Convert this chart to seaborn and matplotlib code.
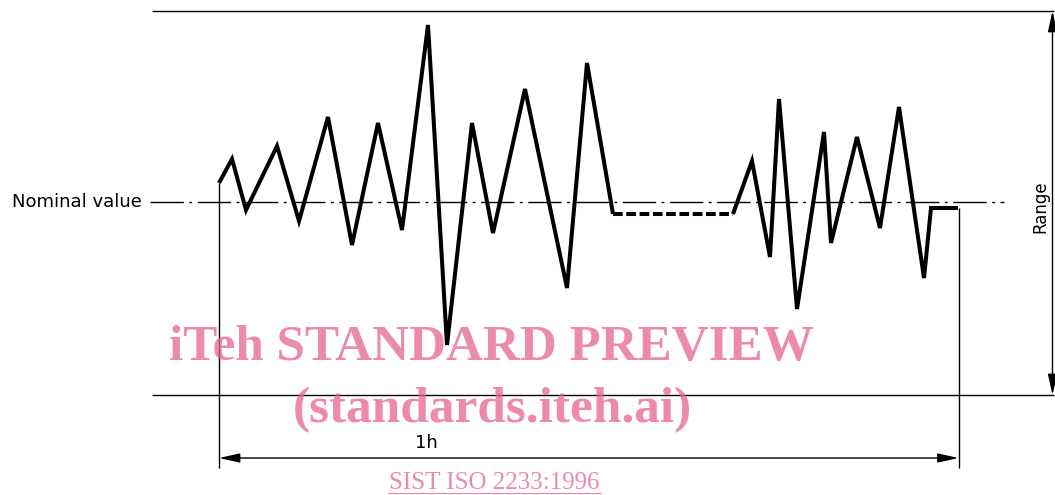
import matplotlib
matplotlib.use("Agg")
import matplotlib.pyplot as plt
import seaborn as sns
import pandas as pd
from matplotlib.patches import FancyArrowPatch

# ---- data (drawing units = pixels of the reference) ----
trace1_x = [219, 232, 246, 277, 299, 328, 352, 378, 402, 428, 447, 472, 493, 525, 567, 587, 613]
trace1_y = [183, 159, 210, 146, 221, 117, 245, 123, 230, 25, 345, 123, 233, 89, 288, 63, 214]
gap_x = [613, 733]
gap_y = [214, 214]
trace2_x = [733, 752, 770, 779, 797, 824, 831, 857, 880, 899, 924, 931, 958]
trace2_y = [214, 161, 257, 99, 309, 132, 243, 137, 228, 107, 278, 208, 208]

nominal_y = 202
range_top = 11
range_bottom = 395
period_start = 219
period_end = 958.5

label_nominal = "Nominal value"
label_range = "Range"
label_period = "1h"
wm_line1 = "iTeh STANDARD PREVIEW"
wm_line2 = "(standards.iteh.ai)"
wm_link = "SIST ISO 2233:1996"

sns.set_theme(style="white")
plt.rcParams['font.family'] = ['DejaVu Sans']

fig = plt.figure(figsize=(10.55, 4.95), dpi=100)
ax = fig.add_axes([0, 0, 1, 1])

thin = 1.0
thick = 2.9

# range limit lines
ax.plot([152, 1054], [range_top, range_top], color="black", lw=thin)
ax.plot([152, 1054], [range_bottom, range_bottom], color="black", lw=thin)
# nominal dash-dot line
ax.plot([150, 1004], [nominal_y, nominal_y], color="black", lw=thin,
        linestyle=(0, (24, 4, 2, 4)))
# extension lines for period
ax.plot([period_start, period_start], [trace1_y[0], 468], color="black", lw=thin)
ax.plot([period_end, period_end], [trace2_y[-1], 468], color="black", lw=thin)

# traces
df1 = pd.DataFrame({"x": trace1_x, "y": trace1_y})
df_gap = pd.DataFrame({"x": gap_x, "y": gap_y})
df2 = pd.DataFrame({"x": trace2_x, "y": trace2_y})
for d in (df1, df2):
    sns.lineplot(data=d, x="x", y="y", sort=False, estimator=None, ax=ax,
                 color="black", lw=thick)
sns.lineplot(data=df_gap, x="x", y="y", sort=False, estimator=None, ax=ax,
             color="black", lw=thick, linestyle=(0, (2.4, 0.9)))
for line in ax.get_lines():
    line.set_solid_joinstyle("miter")
    line.set_solid_capstyle("butt")
ax.set_xlim(0, 1055)
ax.set_ylim(495, 0)
ax.axis("off")

# dimension arrows
arr_kw = dict(arrowstyle="<|-|>,head_length=0.9,head_width=0.2", color="black",
              lw=thin, shrinkA=0, shrinkB=0, mutation_scale=14)
ax.add_patch(FancyArrowPatch((period_start, 458), (period_end, 458), **arr_kw))
ax.add_patch(FancyArrowPatch((1052.5, range_top), (1052.5, range_bottom), **arr_kw))

# labels
ax.text(12, nominal_y, label_nominal, fontsize=13, ha="left", va="center",
        color="black")
ax.text(426, 443, label_period, fontsize=13, ha="center", va="center", color="black")
ax.text(1040, 207, label_range, fontsize=12, ha="center", va="center",
        rotation=90, color="black")

# watermark
wm_col = (232/255, 99/255, 142/255)
ax.text(491.5, 360, wm_line1, fontsize=36.8, family="Liberation Serif",
        fontweight="bold", color=wm_col, alpha=0.75, ha="center", va="baseline")
ax.text(492, 422, wm_line2, fontsize=37, family="Liberation Serif",
        fontweight="bold", color=wm_col, alpha=0.75, ha="center", va="baseline")
ax.text(494.5, 489, wm_link, fontsize=18, family="Liberation Serif",
        color=wm_col, alpha=0.75, ha="center", va="baseline")
ax.plot([388, 601], [493, 493], color=wm_col, alpha=0.75, lw=0.9)

fig.savefig("out.png", dpi=100)
